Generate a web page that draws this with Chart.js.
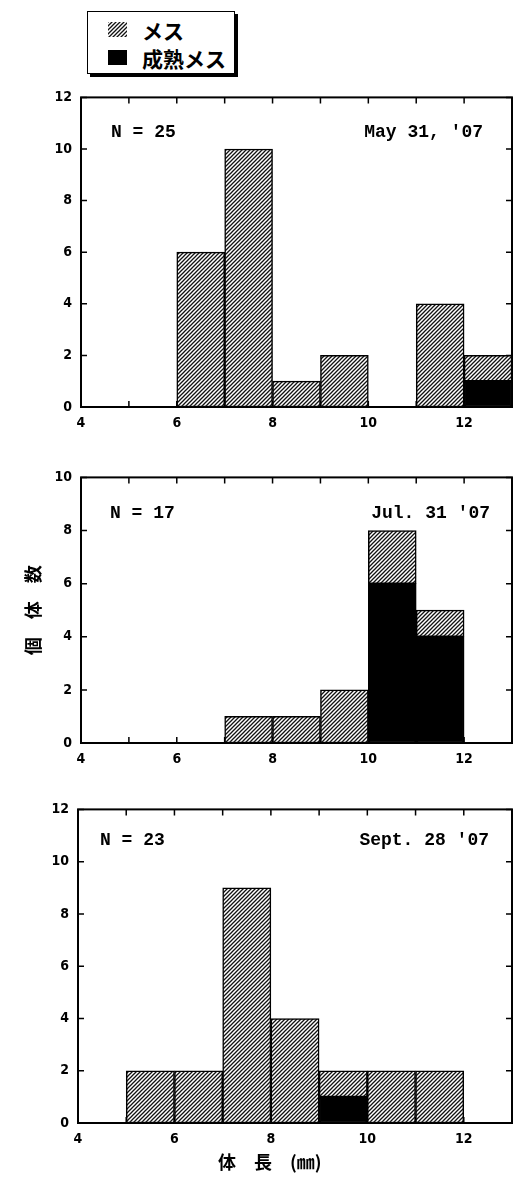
<!DOCTYPE html>
<html lang="ja">
<head>
<meta charset="utf-8">
<script src="https://cdn.jsdelivr.net/npm/chart.js@4"></script>
<style>
    body { margin: 0; background: #fff; }
    #page { position: relative; width: 521px; height: 1178px; }
    .panel { position: absolute; left: 0; }
    #legend {
        position: absolute; left: 87px; top: 11px; width: 146px; height: 61px;
        border: 1.5px solid #000; background: #fff; box-shadow: 3px 3px 0 #000;
        font-family: 'Noto Sans CJK JP', sans-serif; font-weight: bold; font-size: 21px;
    }
    #legend .row { position: absolute; left: 20px; height: 26px; line-height: 26px; }
    #legend canvas, #legend .sw { position: absolute; left: 0; top: 5px; width: 19px; height: 15px; }
    #legend .sw { background: #000; }
    #legend span.txt { position: absolute; left: 34px; white-space: nowrap; }
    #xtitle {
        position: absolute; left: 218px; top: 1149px; line-height: 24px;
        font-family: 'Noto Sans CJK JP', sans-serif; font-weight: bold; font-size: 18px; white-space: nowrap;
    }
</style>
</head>
<body>
<div id="page">
    <div id="legend">
        <div class="row" style="top:5px"><canvas id="hatchSw" width="19" height="15"></canvas><span class="txt">メス</span></div>
        <div class="row" style="top:33px"><div class="sw"></div><span class="txt">成熟メス</span></div>
    </div>
    <canvas class="panel" id="myChart1" width="521" height="352" style="top:80px"></canvas>
    <canvas class="panel" id="myChart2" width="521" height="310" style="top:460px"></canvas>
    <canvas class="panel" id="myChart3" width="521" height="360" style="top:792px"></canvas>
    <div id="xtitle">体　長　(㎜)</div>
</div>
<script>
// 体長の階級 (mm)
const bins = ['4-5', '5-6', '6-7', '7-8', '8-9', '9-10', '10-11', '11-12', '12-13'];
const xTicks = [4, 6, 8, 10, 12];

// May 31, '07
const femaleMay = [0, 0, 6, 10, 1, 2, 0, 4, 1];
const matureMay = [0, 0, 0, 0, 0, 0, 0, 0, 1];
// Jul. 31 '07
const femaleJul = [0, 0, 0, 1, 1, 2, 2, 1, 0];
const matureJul = [0, 0, 0, 0, 0, 0, 6, 4, 0];
// Sept. 28 '07
const femaleSep = [0, 2, 2, 9, 4, 1, 2, 2, 0];
const matureSep = [0, 0, 0, 0, 0, 1, 0, 0, 0];

const yMax = [12, 10, 12];
const nLabels = ['N = 25', 'N = 17', 'N = 23'];
const dateLabels = ["May 31, '07", "Jul. 31 '07", "Sept. 28 '07"];

const tickFont = { family: "'Liberation Sans Narrow', 'DejaVu Sans Condensed', sans-serif", size: 14, weight: 'bold' };

function makeHatch() {
    const c = document.createElement('canvas');
    c.width = 4; c.height = 4;
    const g = c.getContext('2d');
    g.fillStyle = '#fff';
    g.fillRect(0, 0, 4, 4);
    g.strokeStyle = '#111';
    g.lineWidth = 1.3;
    g.beginPath();
    g.moveTo(0, 4); g.lineTo(4, 0);
    g.moveTo(-1, 1); g.lineTo(1, -1);
    g.moveTo(3, 5); g.lineTo(5, 3);
    g.stroke();
    return g.createPattern(c, 'repeat');
}
const hatch = makeHatch();

// 凡例の斜線
const sw = document.getElementById('hatchSw').getContext('2d');
sw.fillStyle = hatch;
sw.fillRect(0, 0, 19, 15);

// 枠・内向き目盛・N と日付
const panelDeco = {
    id: 'panelDeco',
    beforeDatasetsDraw(chart) {
        const { ctx, chartArea: a } = chart;
        const xs = chart.scales.xt, ys = chart.scales.y;
        ctx.save();
        ctx.strokeStyle = '#000';
        ctx.lineWidth = 1.5;
        ctx.beginPath();
        for (let v = xs.min; v <= xs.max; v++) {
            const px = xs.getPixelForValue(v);
            ctx.moveTo(px, a.top); ctx.lineTo(px, a.top + 6);
            ctx.moveTo(px, a.bottom); ctx.lineTo(px, a.bottom - 6);
        }
        ys.ticks.forEach(t => {
            const py = ys.getPixelForValue(t.value);
            ctx.moveTo(a.left, py); ctx.lineTo(a.left + 6, py);
            ctx.moveTo(a.right, py); ctx.lineTo(a.right - 6, py);
        });
        ctx.stroke();
        ctx.restore();
    },
    afterDatasetsDraw(chart, args, opts) {
        const { ctx, chartArea: a } = chart;
        ctx.save();
        ctx.strokeStyle = '#000';
        ctx.lineWidth = 2;
        ctx.strokeRect(a.left, a.top, a.right - a.left, a.bottom - a.top);
        ctx.fillStyle = '#000';
        ctx.font = "bold 18px 'Liberation Mono', monospace";
        ctx.textBaseline = 'middle';
        ctx.textAlign = 'left';
        ctx.fillText(opts.n, a.left + opts.nx, a.top + opts.ty);
        ctx.textAlign = 'right';
        ctx.fillText(opts.date, a.right - opts.dx, a.top + opts.ty);
        ctx.restore();
    }
};

function makeConfig(i, female, mature, pad, xHeight, yWidth, deco, yTitle) {
    return {
        type: 'bar',
        data: {
            labels: bins,
            datasets: [{
                label: '成熟メス',
                data: mature.map(v => v || null),
                backgroundColor: '#000',
                borderColor: '#000',
                borderWidth: 1.5,
                borderSkipped: false,
                barPercentage: 1,
                categoryPercentage: 1
            }, {
                label: 'メス',
                data: female.map(v => v || null),
                backgroundColor: hatch,
                borderColor: '#000',
                borderWidth: 1.5,
                borderSkipped: false,
                barPercentage: 1,
                categoryPercentage: 1
            }]
        },
        plugins: [panelDeco],
        options: {
            responsive: false,
            animation: false,
            layout: { padding: pad },
            plugins: {
                legend: { display: false },
                tooltip: { enabled: false },
                panelDeco: deco
            },
            scales: {
                x: { display: false, stacked: true, offset: true },
                xt: {
                    type: 'linear',
                    position: 'bottom',
                    min: 4,
                    max: 13,
                    offset: false,
                    grid: { display: false, drawTicks: false, offset: false },
                    border: { display: false },
                    afterFit(s) { s.height = xHeight; },
                    ticks: {
                        stepSize: 1,
                        autoSkip: false,
                        maxRotation: 0,
                        padding: 8,
                        color: '#000',
                        font: tickFont,
                        callback: v => xTicks.includes(v) ? String(v) : ''
                    }
                },
                y: {
                    stacked: true,
                    min: 0,
                    max: yMax[i],
                    grid: { display: false, drawTicks: false },
                    border: { display: false },
                    afterFit(s) { s.width = yWidth; },
                    title: yTitle || { display: false },
                    ticks: { stepSize: 2, padding: 9, color: '#000', font: tickFont }
                }
            }
        }
    };
}

const config1 = makeConfig(0, femaleMay, matureMay,
    { top: 13, right: 9, bottom: 0, left: 0 }, 25, 81,
    { n: nLabels[0], date: dateLabels[0], nx: 30, dx: 29, ty: 35 });
const config2 = makeConfig(1, femaleJul, matureJul,
    { top: 13, right: 9, bottom: 0, left: 0 }, 27, 81,
    { n: nLabels[1], date: dateLabels[1], nx: 29, dx: 22, ty: 36 },
    { display: true, text: '個　体　数', color: '#000', padding: { top: 22 },
      font: { family: "'Noto Sans CJK JP', sans-serif", size: 18, weight: 'bold' } });
const config3 = makeConfig(2, femaleSep, matureSep,
    { top: 13, right: 9, bottom: 0, left: 0 }, 29, 78,
    { n: nLabels[2], date: dateLabels[2], nx: 22, dx: 23, ty: 31 });

const myChart1 = new Chart(document.getElementById('myChart1'), config1);
const myChart2 = new Chart(document.getElementById('myChart2'), config2);
const myChart3 = new Chart(document.getElementById('myChart3'), config3);
</script>
</body>
</html>
